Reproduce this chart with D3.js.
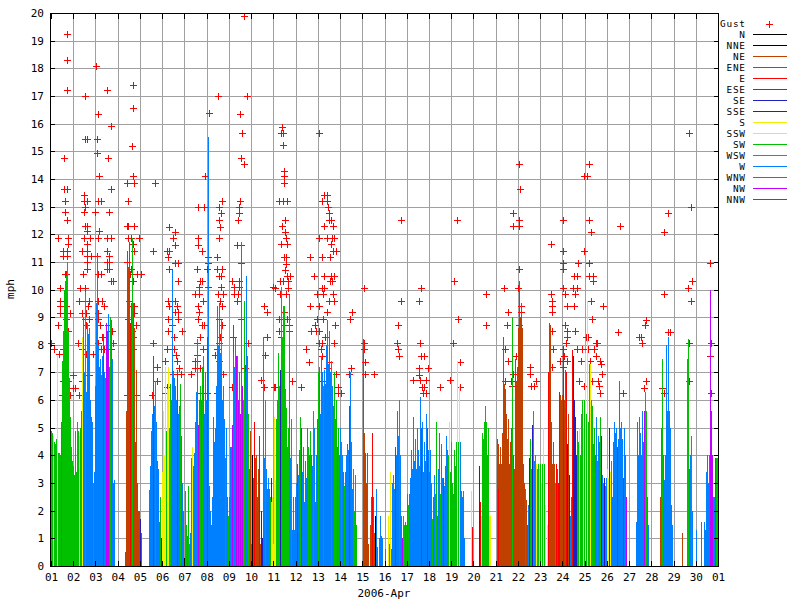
<!DOCTYPE html>
<html><head><meta charset="utf-8">
<script src="https://cdn.jsdelivr.net/npm/d3@7"></script>
<style>
body{margin:0;background:#fff}
svg{display:block}
text{font-family:"DejaVu Sans Mono",monospace;font-size:11px;fill:#000}
.lg text{font-size:9.4px;letter-spacing:0.8px}
</style>
</head><body>
<svg id="chart" width="800" height="600"></svg>
<script>
// ---------- DATA ----------
const directions = ["N","NNE","NE","ENE","E","ESE","SE","SSE","S","SSW","SW","WSW","W","WNW","NW","NNW"];
const mphTicks = d3.range(0, 21);
const xTitle = "2006-Apr";
const yTitle = "mph";

// hourly mean wind speed (mph), one row per day (Apr 1 .. Apr 30)
const speedByDay = [
[4.9,4.8,4.7,4.5,4.4,4.6,7.4,7.6,4.1,4.1,4.0,5.2,7.4,8.5,10.0,10.3,10.5,11.0,8.5,6.8,5.4,5.0,4.3,3.8],
[3.6,3.3,4.9,3.4,5.2,4.9,4.7,5.0,5.6,5.5,8.3,9.0,7.0,9.9,6.3,8.8,8.4,8.6,6.0,5.4,5.2,3.0,3.4,3.6],
[6.5,9.5,11.2,8.0,7.2,7.5,6.9,7.6,8.4,7.0,6.8,8.8,8.5,9.1,7.8,7.2,9.0,8.9,7.5,3.0,3.1,0,0,0],
[0,0,0,0,0,0,0,0,0.5,5.6,11.4,10.8,11.7,8.8,9.5,11.85,9.5,8.5,8.6,4.5,7.1,3.0,2.0,2.0],
[1.7,1.2,0,0,0,0,0,0,0,0,2.75,3.6,4.9,5.5,7.6,5.8,6.7,5.2,3.8,3.5,1.7,1.6,2.5,1.0],
[3.4,5.6,4.0,7.2,4.9,6.4,7.2,5.0,6.6,5.6,6.0,10.7,7.0,6.8,6.5,6.0,7.1,5.5,5.8,6.6,4.7,3.0,1.8,2.0],
[0.3,2.7,1.5,1.1,2.9,0.8,1.2,3.9,4.3,3.6,4.1,5.2,6.0,6.3,8.2,5.1,6.0,6.5,6.0,7.2,7.6,5.5,7.0,6.0],
[8.3,6.5,15.5,2.9,2.0,1.5,2.5,5.4,4.5,5.0,6.5,9.4,8.0,9.5,7.7,8.9,7.3,6.0,6.5,5.3,3.9,5.0,2.5,1.8],
[2.5,4.3,4.3,5.1,8.7,7.7,7.2,8.3,7.6,7.6,6.0,7.0,5.5,11.7,6.5,6.0,9.6,7.0,4.0,10.5,7.6,5.5,3.5,4.9],
[0.8,4.0,3.2,5.2,3.9,4.0,2.5,3.5,3.9,4.7,0.8,2.0,1.0,8.3,3.9,6.0,3.5,2.8,3.2,2.8,2.5,3.2,2.3,2.5],
[0.8,5.4,3.1,5.3,6.0,7.7,6.5,7.1,10.1,8.3,9.4,9.4,7.5,6.4,5.7,4.3,5.0,9.8,3.9,5.3,1.3,2.5,1.3,2.5],
[2.2,3.0,3.7,3.3,4.2,5.4,5.0,3.4,4.3,2.3,3.8,3.2,5.0,4.3,3.4,4.0,4.9,4.0,3.6,5.6,5.0,2.3,4.0,5.3],
[7.0,7.2,5.5,7.6,6.0,7.0,6.5,7.1,6.6,8.0,8.9,7.3,8.5,7.0,7.4,6.5,5.8,7.0,6.0,5.3,6.0,4.3,5.0,4.0],
[5.0,4.5,4.0,3.4,2.9,3.4,4.0,2.5,4.4,4.2,5.8,7.0,4.5,2.8,3.5,2.0,3.3,1.5,0,0,0,0,0,0],
[0,8.2,4.8,4.1,3.0,4.1,0.8,0,1.5,2.5,3.6,4.8,2.5,1.2,1.8,2.8,0.7,0,1.0,1.8,1.1,1.0,0,0],
[0.6,0,0,0,1.8,0.8,3.4,0.6,3.0,3.3,2.8,4.3,4.0,4.7,5.6,4.7,6.0,4.0,1.8,1.0,1.8,1.5,1.6,1.5],
[2.6,2.2,2.6,2.2,3.2,4.2,3.5,5.4,3.8,4.6,3.5,5.0,4.2,3.6,6.1,5.0,4.4,5.2,3.4,4.5,3.8,5.5,5.0,4.2],
[3.4,4.2,3.0,1.7,2.5,3.3,2.0,2.6,5.2,1.8,3.5,4.8,2.6,4.4,3.2,3.2,2.9,3.6,4.7,4.2,3.6,4.0,5.2,3.4],
[4.5,3.0,2.6,4.2,3.6,4.5,7.4,4.5,6.5,4.1,4.5,2.7,2.5,2.7,1.0,0,0,0,0,0,0,2.7,1.4,0],
[0,0,0,0,0,0,3.6,2.3,1.8,4.8,4.6,5.2,5.0,5.8,5.2,4.0,5.0,1.8,1.8,0,0,0,0,0],
[0,4.6,4.4,2.8,3.7,4.3,3.7,4.8,8.3,6.6,6.4,5.5,4.6,5.3,3.7,3.7,4.5,5.0,9.0,4.0,3.5,7.5,6.7,7.2],
[8.6,10.3,9.0,9.5,8.6,3.7,3.7,3.0,2.8,2.4,1.5,2.2,3.9,4.6,3.5,5.1,5.6,3.8,4.0,3.5,3.7,3.5,3.7,3.5],
[3.7,3.0,3.7,5.0,3.7,2.2,0,1.5,0,7.0,8.8,8.7,5.2,3.7,4.5,3.7,3.0,3.7,3.5,3.0,6.3,6.2,5.5,6.0],
[6.2,7.7,6.0,7.1,7.0,4.4,5.5,3.3,1.8,2.5,7.8,7.6,7.3,6.0,5.4,4.0,4.9,4.5,5.0,4.0,5.5,6.0,5.0,6.0],
[7.7,5.5,5.0,9.6,5.2,7.3,7.3,6.0,5.8,4.4,5.0,4.0,5.4,3.8,4.7,4.0,4.5,5.4,4.7,3.3,3.0,3.2,2.9,3.2],
[3.5,3.2,5.0,3.4,3.8,2.6,2.5,4.5,5.2,4.8,5.0,4.3,4.6,6.7,5.0,5.2,4.6,3.2,5.0,4.2,4.0,2.5,0,0],
[0,0,0,0,0,0,0,0,1.6,5.2,4.0,5.4,4.8,4.0,5.6,4.5,5.6,6.3,5.6,2.5,1.5,0,0,0],
[0,0,0,0,0,0,0,0,0,2.5,1.8,5.0,7.5,4.0,3.1,4.0,8.0,5.6,8.3,5.6,5.0,2.2,1.5,0],
[0,0,0,0,0,0,0,0,0,1.2,0,0,0,0,4.0,7.5,8.2,3.5,4.0,4.7,2.0,0,0,0],
[1.3,0,0,0,0,0,1.6,0,0,1.6,1.3,3.4,4.0,3.0,4.0,10.0,5.6,4.0,4.0,2.5,2.5,3.9,3.9,3.9]
];

// hourly wind direction, index into `directions`
const dirByDay = [
[10,10,8,10,10,10,6,8,10,10,10,12,10,10,10,10,10,10,10,10,10,10,10,10],
[10,10,10,10,10,10,8,10,10,10,8,12,12,10,12,12,12,12,12,12,12,10,12,12],
[12,12,12,12,12,12,12,12,14,12,12,14,14,12,14,12,10,12,12,12,12,0,0,0],
[0,0,0,0,0,0,0,0,2,2,2,2,2,4,2,10,2,2,2,2,2,2,2,2],
[6,2,0,0,0,0,0,0,0,0,12,12,12,12,14,12,10,12,12,12,12,12,10,6],
[8,8,8,8,10,8,8,10,10,12,12,12,12,12,12,12,14,12,12,10,12,12,12,12],
[0,10,10,12,10,10,12,10,8,10,12,12,12,12,12,14,12,10,12,10,12,12,12,12],
[14,12,12,12,12,12,12,12,12,12,12,12,12,12,12,10,12,12,12,12,10,12,12,10],
[12,12,12,14,14,12,12,12,14,12,14,12,14,12,14,10,10,12,14,12,12,10,12,2],
[2,0,2,4,2,2,2,2,2,4,2,6,6,12,12,10,12,12,12,12,10,6,8,8],
[8,8,8,10,10,10,10,6,10,10,10,10,10,10,10,10,10,12,12,10,12,12,12,12],
[12,12,14,12,12,10,14,12,12,12,12,12,12,10,12,12,10,12,12,10,12,12,12,12],
[10,12,12,12,12,12,10,12,12,12,12,12,12,12,10,12,12,10,10,10,10,12,10,12],
[12,10,12,12,10,12,12,14,12,12,14,12,12,12,10,10,10,10,0,0,0,0,0,0],
[0,2,2,2,2,2,2,0,2,2,6,4,2,2,0,12,12,0,12,12,12,12,0,0],
[12,0,0,0,8,10,8,10,12,12,12,14,12,12,12,12,10,12,12,14,10,10,12,10],
[12,10,12,12,12,12,12,12,12,12,12,12,12,12,12,14,12,12,12,12,12,12,14,12],
[12,12,12,10,12,12,12,10,10,12,12,12,10,12,12,14,12,12,12,12,12,10,8,10],
[10,10,10,10,10,10,8,10,8,10,12,12,12,12,12,0,0,0,0,0,0,8,4,0],
[0,0,0,0,0,0,6,4,8,10,10,10,10,10,10,10,10,8,8,0,0,0,0,0],
[0,2,2,4,2,2,2,2,2,2,2,2,2,2,2,12,2,2,10,2,2,2,2,2],
[2,2,2,2,2,2,2,2,12,2,2,12,6,10,10,6,10,12,10,10,8,10,10,8],
[10,8,10,8,10,8,0,8,0,4,2,2,2,2,2,2,10,4,2,4,4,2,2,2],
[2,4,2,2,4,6,2,6,12,2,4,6,6,6,6,6,10,10,8,10,10,10,8,10],
[8,10,10,8,10,10,8,10,10,10,10,12,12,10,12,12,12,10,6,12,12,6,12,12],
[8,8,6,8,10,10,12,12,12,12,12,14,12,12,12,12,12,14,12,12,12,14,0,0],
[0,0,0,0,0,0,0,0,12,12,12,12,12,12,12,12,14,10,10,12,12,0,0,0],
[0,0,0,0,0,0,0,0,0,2,12,12,10,12,12,12,12,12,12,12,12,12,12,0],
[0,0,0,0,0,0,0,0,0,2,0,0,0,0,4,10,10,12,12,10,12,0,0,0],
[12,0,0,0,0,0,12,0,0,12,12,12,12,12,12,14,14,12,14,12,12,14,10,10]
];

// gust readings: [hours since 2006-04-01 00:00, mph]
const gustReadings = [
[17.6,19.25],[17.6,18.3],[17.6,17.2],[14.4,14.75],[14.4,13.65],[17.0,13.65],[15.4,13.2],[15.4,12.8],[17.6,12.5],[7.9,11.85],[18.7,11.85],[18.7,11.65],[13.3,11.4],[17.0,11.4],[13.3,11.2],[17.0,11.2],[15.4,10.55],[16.5,10.55],[9.7,10.05],
[36.7,17.0],[36.7,15.45],[38.5,15.45],[36.0,13.4],[35.3,13.2],[38.5,13.2],[37.0,13.0],[35.3,12.8],[36.7,12.3],[39.2,12.3],[38.5,12.1],[36.0,11.85],[42.1,11.85],[39.2,11.65],[33.1,11.4],[39.2,11.4],[39.2,11.2],[42.9,11.2],[39.2,11.0],[38.5,10.75],[34.9,10.55],[31.6,10.05],[37.0,10.05],
[48.9,18.1],[50.4,16.35],[49.3,15.45],[50.0,14.95],[52.1,14.1],[51.1,13.2],[53.7,13.2],[47.8,12.8],[52.1,12.1],[51.1,11.85],[49.3,11.2],[50.4,10.55],[54.3,10.55],
[60.8,17.2],[65.1,15.9],[61.9,14.75],[65.1,13.65],[62.9,12.8],[60.1,11.85],[64.8,11.85],[60.1,11.4],[62.9,11.2],[60.1,11.0],[62.9,11.0],[60.1,10.75],[62.3,10.75],[65.1,10.3],[67.3,10.3],
[88.9,17.4],[88.9,16.55],[87.4,15.2],[88.2,14.1],[82.1,13.85],[89.9,13.85],[83.5,13.2],[82.1,12.3],[83.5,12.3],[89.9,12.3],[83.5,11.85],[86.4,11.85],[95.3,11.85],[88.9,11.65],[89.9,11.4],[82.1,11.0],[86.4,10.75],[85.3,10.55],[92.5,10.55],[96.8,10.55],[88.9,10.3],
[112.3,13.85],[110.1,11.4],
[9.7,9.6],[30.6,9.6],[36.7,9.6],[41.3,9.6],[51.1,9.6],[54.7,9.6],[84.5,9.6],
[9.7,9.4],[16.2,9.4],[40.3,9.4],[57.5,9.4],[86.4,9.4],[89.6,9.4],
[9.7,9.15],[20.5,9.15],[33.8,9.15],[37.8,9.15],[50.4,9.15],[89.6,9.15],
[16.2,8.95],[36.7,8.95],[41.3,8.95],[50.4,8.95],[82.8,8.95],
[7.9,8.7],[37.8,8.7],[52.9,8.7],[61.2,8.7],[91.8,8.7],
[18.7,8.5],[65.5,8.5],[87.1,8.5],[55.4,8.3],[88.9,8.3],
[0.2,8.05],[29.5,8.05],[51.1,8.05],[67.3,8.05],[110.4,8.05],
[3.6,7.85],[13.3,7.85],[33.1,7.85],[54.0,7.85],[57.5,7.85],[64.8,7.85],[88.2,7.85],
[9.0,7.65],[37.8,7.65],[41.3,7.65],[45.7,7.65],
[123.1,7.4],[114.1,7.2],[24.1,6.9],[41.3,6.9],
[13.3,6.7],[18.7,6.7],[33.1,6.7],[114.1,6.7],[23.4,6.45],[25.9,6.45],
[12.2,6.2],[20.5,6.2],[30.6,6.2],[81.7,6.2],[91.8,6.2],[108.7,6.2],
[205.9,15.65],[205.4,14.75],[208.7,14.53],[166.3,14.1],[184.6,13.2],[204.0,13.2],[158.4,12.97],[165.5,12.97],[181.7,12.97],[203.3,12.97],
[183.2,12.75],[203.3,12.75],[181.7,12.52],[202.2,12.52],[127.7,12.27],[182.8,12.27],[134.2,12.07],[132.0,11.85],[158.4,11.85],[181.0,11.85],
[134.2,11.62],[158.4,11.62],[201.1,11.62],[205.1,11.62],[125.6,11.4],[127.7,11.4],[163.3,11.4],[126.6,11.17],[169.8,11.17],[179.5,11.17],
[133.9,10.95],[136.8,10.95],[169.2,10.95],[205.1,10.95],[127.7,10.73],[157.9,10.73],[168.1,10.73],[179.5,10.73],[184.6,10.73],
[181.7,10.5],[183.5,10.5],[136.8,10.3],[160.9,10.3],[163.0,10.3],[195.4,10.3],[202.6,10.3],
[160.1,10.08],[169.8,10.08],[183.9,10.08],[197.6,10.08],[202.6,10.08],[240.0,10.08],
[155.5,9.85],[160.1,9.85],[180.0,9.85],[185.4,9.85],[197.6,9.85],[202.2,9.85],
[126.6,9.6],[134.2,9.6],[164.4,9.6],[182.8,9.6],[201.1,9.6],
[127.7,9.39],[135.7,9.39],[158.4,9.39],[184.6,9.39],[230.3,9.39],
[133.9,9.17],[136.8,9.17],[160.1,9.17],[232.9,9.17],
[126.6,8.93],[136.8,8.93],[158.4,8.93],[181.0,8.93],[205.4,8.93],
[130.6,8.7],[163.0,8.7],[165.5,8.7],[184.6,8.7],[126.6,8.5],[141.1,8.5],
[133.1,8.27],[160.9,8.27],[182.5,8.27],[196.2,8.27],[232.9,8.27],
[157.3,8.05],[181.0,8.05],[213.0,8.05],[124.9,7.85],[133.1,7.85],[163.8,7.85],[179.5,7.85],
[135.0,7.62],[157.9,7.62],[177.1,7.62],[231.4,7.62],[135.7,7.4],[155.5,7.4],[157.9,7.4],[181.0,7.4],
[138.5,7.17],[155.5,7.17],[160.9,7.17],[209.4,7.17],[132.0,6.95],[140.0,6.95],[151.1,6.95],[186.0,6.95],
[226.7,6.73],[124.9,6.49],[195.1,6.49],[230.3,6.49],[240.8,6.49],[123.1,6.25],[160.9,6.25],[168.1,6.25],[178.9,6.25],
[170.6,16.4],[180.3,17.0],[208.4,19.9],[211.6,17.0],[204.0,16.35],
[249.7,15.87],[248.0,15.65],[250.8,15.65],[289.7,15.65],[250.8,15.23],[251.9,14.3],[251.9,14.1],[251.9,13.84],
[246.5,13.2],[250.8,13.2],[255.1,13.2],[295.1,13.4],[298.3,13.4],[292.9,13.2],[297.6,13.2],[299.4,13.0],[299.8,12.77],
[300.5,12.52],[302.0,12.52],[253.0,12.52],[249.7,12.29],[295.1,12.29],[304.8,12.29],[253.0,12.07],
[254.0,11.85],[289.7,11.85],[298.3,11.85],[303.4,11.85],[305.5,11.85],[248.6,11.63],[255.1,11.63],[302.6,11.63],
[307.7,11.39],[304.8,11.39],[251.9,11.16],[254.0,11.16],[279.9,11.16],[292.2,11.16],[301.5,11.16],[254.0,10.94],[253.0,10.72],
[255.1,10.5],[258.4,10.5],[284.3,10.5],[295.1,10.5],[302.0,10.5],[305.9,10.5],
[247.2,10.3],[250.8,10.3],[256.2,10.3],[301.2,10.3],[303.7,10.3],
[242.2,10.05],[256.2,10.05],[292.6,10.05],[295.1,10.05],[338.2,10.05],
[247.2,9.83],[254.0,9.83],[287.5,9.83],[294.0,9.83],[304.8,9.83],[300.5,9.6],[305.9,9.6],[279.9,9.4],[289.7,9.4],
[251.9,9.18],[297.6,9.18],[325.3,9.18],[246.5,8.95],[255.1,8.95],[286.9,8.95],[294.0,8.95],[322.8,8.95],
[251.9,8.7],[257.3,8.7],[285.3,8.7],[306.9,8.7],[246.5,8.5],[257.3,8.5],[281.0,8.5],[285.8,8.5],[289.7,8.5],
[248.6,8.27],[295.8,8.27],[292.2,8.05],[338.2,8.05],[289.7,8.05],[305.9,8.05],[275.3,7.85],[291.2,7.85],[338.2,7.85],[292.2,7.6],
[278.9,7.37],[300.5,7.37],[339.3,7.37],[298.3,7.15],[324.2,7.15],[307.7,6.93],[321.7,6.93],[339.3,6.93],[349.0,6.93],
[259.9,6.7],[292.2,6.7],[242.2,6.47],[270.2,6.47],[310.2,6.47],[310.2,6.25],[313.1,6.25],
[435.4,10.3],[399.1,10.05],[377.5,9.6],[397.6,9.6],[469.6,9.83],[439.1,8.92],[374.9,8.7],[469.6,8.7],
[373.9,8.05],[398.4,8.05],[434.3,8.05],[374.9,7.85],[376.0,7.58],[399.1,7.58],[403.0,7.58],[441.9,7.37],
[397.6,7.15],[406.7,7.15],[397.6,6.9],[391.1,6.72],[398.4,6.72],[404.5,6.72],[431.1,6.72],
[400.5,6.47],[403.0,6.47],[420.3,6.47],[441.9,6.47],[401.3,6.25],[405.2,6.25],[377.9,12.5],[438.6,12.5],
[505.6,14.53],[581.2,14.53],[575.7,14.1],[579.0,14.1],[506.7,13.62],[499.1,12.75],[505.6,12.5],[552.4,12.5],[581.2,12.5],
[499.1,12.29],[504.9,12.29],[583.3,12.07],[540.1,11.64],[552.8,11.38],[575.7,11.38],[553.1,10.95],[569.3,10.95],[581.2,10.95],
[505.6,10.73],[553.1,10.73],[565.0,10.5],[568.2,10.5],[581.2,10.5],[584.8,10.5],[585.5,10.3],
[489.4,10.05],[504.5,10.05],[553.1,10.05],[563.6,10.05],[568.2,10.05],[540.1,9.83],[554.6,9.83],[566.0,9.83],
[583.3,9.6],[541.2,9.6],[507.1,9.4],[541.2,9.4],[557.4,9.4],[565.0,9.4],[596.3,9.4],[493.7,9.18],[507.1,9.18],[541.2,9.18],
[584.4,8.93],[492.6,8.7],[505.6,8.7],[555.3,8.7],[540.9,8.5],[557.4,8.5],[566.0,8.5],[557.1,8.3],[577.6,8.3],[579.4,8.3],
[556.3,8.07],[588.4,8.07],[589.8,8.07],[490.1,7.85],[542.3,7.85],[552.4,7.85],[567.5,7.85],[573.0,7.85],[579.4,7.85],[586.2,7.85],
[501.7,7.6],[553.8,7.6],[588.4,7.6],[493.7,7.4],[549.5,7.4],[556.8,7.4],[572.2,7.4],[581.9,7.4],[592.7,7.4],
[541.2,7.2],[552.4,7.2],[593.5,7.3],[517.5,7.2],[499.1,6.95],[517.5,6.95],
[570.4,6.7],[584.4,6.7],[590.2,6.7],[490.1,6.7],[496.3,6.7],[523.3,6.7],[497.4,6.5],[517.9,6.5],[521.8,6.5],[575.7,6.5],[591.9,6.5],
[689.1,15.65],[691.3,12.98],[666.4,12.75],[614.6,12.29],[662.1,12.07],[711.8,10.95],[692.3,10.3],[688.0,10.05],[662.1,9.83],[691.3,9.6],
[642.7,8.9],[641.6,8.7],[612.5,8.48],[666.4,8.48],[667.9,8.48],[635.1,8.27],[637.3,8.27],[638.4,8.05],[689.1,8.05],[712.9,8.05],
[711.8,7.58],[594.5,6.93],[642.7,6.7],[640.5,6.45],[659.6,6.45],[689.1,6.7],[617.2,6.25],[662.1,6.25],[712.9,6.25],[592.7,6.25]
];

// ---------- STYLE ----------
const dirColors = ["#000000","#000000","#c04000","#c04000","#ff0000","#ff0000","#2020c0","#2020c0",
                   "#f0f000","#f0f000","#00c000","#00c000","#0080ff","#0080ff","#c000ff","#c000ff"];
const gridColor = "#a0a0a0";
const gustColor = "#ff0000";

// ---------- CHART ----------
const svg = d3.select("#chart");
svg.append("rect").attr("width",800).attr("height",600).attr("fill","#fff");

const HOUR = 3600e3;
const t0 = Date.UTC(2006,3,1), t1 = Date.UTC(2006,4,1);
const x = d3.scaleUtc().domain([t0,t1]).range([51,718]);
const y = d3.scaleLinear().domain([0,20]).range([566,13]);
const px = v => Math.round(v);

const dayTicks = d3.utcDay.range(t0, t1 + 1);

// grid
const grid = svg.append("g").attr("stroke",gridColor).attr("shape-rendering","crispEdges");
dayTicks.slice(1,-1).forEach(d => {
  const xx = px(x(d))+0.5;
  grid.append("line").attr("x1",xx).attr("x2",xx).attr("y1",13).attr("y2",566);
});
mphTicks.slice(1,-1).forEach(v => {
  const yy = px(y(v))+0.5;
  grid.append("line").attr("x1",51).attr("x2",718).attr("y1",yy).attr("y2",yy);
});

// gusts (drawn beneath bars)
const gustG = svg.append("g").attr("stroke",gustColor).attr("stroke-width",1).attr("fill","none").attr("shape-rendering","crispEdges");
gustG.selectAll("path").data(gustReadings).join("path")
  .attr("d", g => {
    const cx = px(x(t0 + g[0]*HOUR)), cy = px(y(g[1]));
    return `M${cx-3},${cy+0.5}h7M${cx+0.5},${cy-3}v7`;
  });

// bars
const samples = [];
speedByDay.forEach((row, d) => row.forEach((v, h) => {
  samples.push({t: t0 + (d*24+h)*HOUR, v, dir: dirByDay[d][h]});
}));
svg.append("g").attr("shape-rendering","crispEdges")
  .selectAll("rect").data(samples.filter(s => s.v > 0)).join("rect")
  .attr("x", s => px(x(s.t)))
  .attr("width", s => Math.max(1, px(x(s.t+HOUR)) - px(x(s.t))))
  .attr("y", s => px(y(s.v)))
  .attr("height", s => 566 - px(y(s.v)))
  .attr("fill", s => dirColors[s.dir]);

// frame and ticks
const fr = svg.append("g").attr("stroke","#000").attr("shape-rendering","crispEdges").attr("fill","none");
fr.append("path").attr("d","M50.5,13.5H718.5V566.5H50.5Z");
mphTicks.forEach(v => {
  const yy = px(y(v))+0.5;
  fr.append("line").attr("x1",51).attr("x2",55).attr("y1",yy).attr("y2",yy);
  fr.append("line").attr("x1",714).attr("x2",718).attr("y1",yy).attr("y2",yy);
});
dayTicks.forEach(d => {
  const xx = px(x(d))+0.5;
  fr.append("line").attr("x1",xx).attr("x2",xx).attr("y1",14).attr("y2",19);
  fr.append("line").attr("x1",xx).attr("x2",xx).attr("y1",561).attr("y2",566);
});

// axes labels via d3 axes
const xAxis = svg.append("g").attr("transform","translate(0,566)")
  .call(d3.axisBottom(x).tickValues(dayTicks).tickFormat(d3.utcFormat("%d")).tickSize(0).tickPadding(7));
const yAxis = svg.append("g").attr("transform","translate(51,0)")
  .call(d3.axisLeft(y).tickValues(mphTicks).tickFormat(d3.format("d")).tickSize(0).tickPadding(7));
[xAxis,yAxis].forEach(a => {
  a.select(".domain").remove();
  a.selectAll("text").attr("fill","#000").style("font-family","DejaVu Sans Mono, monospace").style("font-size","11px");
});

svg.append("text").attr("x",384).attr("y",597).attr("text-anchor","middle").text(xTitle);
svg.append("text").attr("transform","translate(14,289) rotate(-90)").attr("text-anchor","middle").text(yTitle);

// legend
const lg = svg.append("g").attr("class","lg");
lg.append("text").attr("x",745.8).attr("y",27).attr("text-anchor","end").text("Gust");
lg.append("path").attr("d","M766,24.5h7M769.5,21v7").attr("stroke",gustColor).attr("shape-rendering","crispEdges");
directions.forEach((d,i) => {
  const yy = 34 + 11*i;
  lg.append("text").attr("x",745.8).attr("y",yy+3.5).attr("text-anchor","end").text(d);
  lg.append("line").attr("x1",753).attr("x2",787).attr("y1",yy+0.5).attr("y2",yy+0.5)
    .attr("stroke",dirColors[i]).attr("shape-rendering","crispEdges");
});
</script>
</body></html>
